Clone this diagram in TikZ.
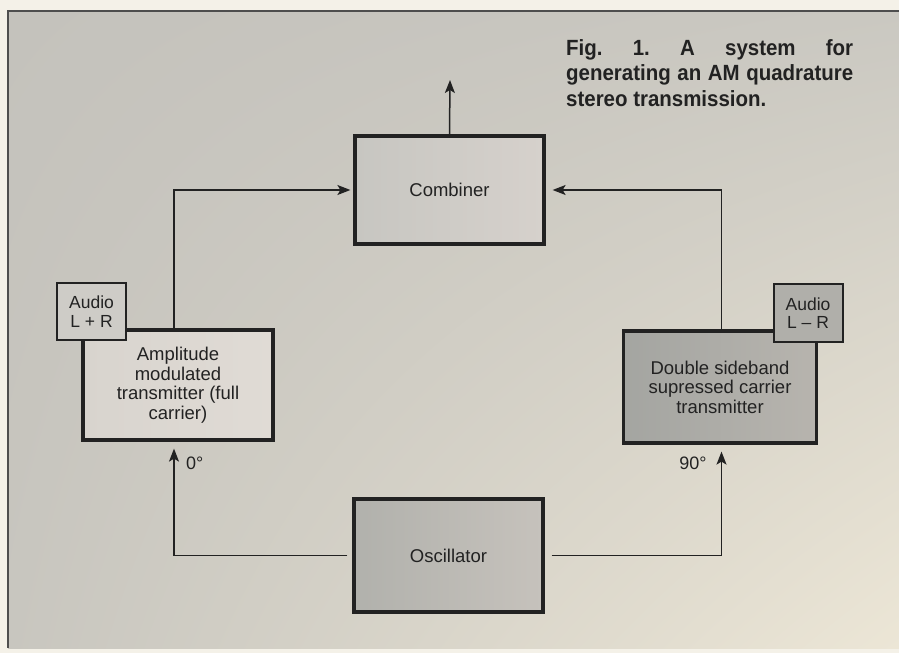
\documentclass[tikz,border=0pt]{standalone}
\usepackage{fontspec}
\setmainfont{Liberation Sans}
\newfontfamily\capfont[FakeStretch=0.93]{Liberation Sans}
\usepackage{xcolor}
\usetikzlibrary{arrows.meta,shadings}

\definecolor{paper}{HTML}{F4F1E8}
\definecolor{ink}{HTML}{222222}
\definecolor{panelUL}{RGB}{196,194,188}
\definecolor{panelUR}{RGB}{202,200,193}
\definecolor{panelLL}{RGB}{200,198,191}
\definecolor{panelLR}{RGB}{236,230,214}
\definecolor{combL}{RGB}{199,198,193}
\definecolor{combR}{RGB}{214,209,204}
\definecolor{amL}{RGB}{216,212,206}
\definecolor{amR}{RGB}{224,219,213}
\definecolor{dsbL}{RGB}{164,165,161}
\definecolor{dsbR}{RGB}{183,180,174}
\definecolor{oscL}{RGB}{177,177,172}
\definecolor{oscR}{RGB}{198,194,188}
\definecolor{lprfill}{RGB}{206,204,199}
\definecolor{lmrfill}{RGB}{176,175,170}

\begin{document}
\begin{tikzpicture}[x=1pt,y=-1pt,
		>={Stealth[length=13pt,width=10pt,inset=3pt]},
		box/.style={draw=ink,line width=3.2pt,text=ink,align=center,inner sep=0pt,
			font=\fontsize{18.5}{19.5}\selectfont},
		audio/.style={draw=ink,line width=2pt,text=ink,align=center,inner sep=0pt,
			minimum width=69pt,minimum height=57pt,font=\fontsize{17.5}{18.5}\selectfont},
		conn/.style={draw=ink,line width=1.5pt},
		lbl/.style={text=ink,inner sep=0pt,font=\fontsize{18}{19}\selectfont}]
		\useasboundingbox (0,0) rectangle (899,653);
		\fill[paper] (0,0) rectangle (899,653);
		\shade[upper left=panelUL,upper right=panelUR,lower left=panelLL,lower right=panelLR]
			(8,11) rectangle (899,648);
		\draw[ink!80,line width=1.2pt] (899,11) -- (8,11) -- (8,648);
		
		% blocks
		\node[box,minimum width=189pt,minimum height=108pt,left color=combL,right color=combR]
			(comb) at (449.5,190) {Combiner};
		\node[box,minimum width=190pt,minimum height=110pt,left color=amL,right color=amR]
			(am) at (178,385) {Amplitude\\modulated\\transmitter (full\\carrier)};
		\node[box,minimum width=193pt,minimum height=112pt,left color=dsbL,right color=dsbR]
			(dsb) at (720,387) {Double sideband\\supressed carrier\\transmitter};
		\node[box,minimum width=189pt,minimum height=113pt,left color=oscL,right color=oscR]
			(osc) at (448.5,555.5) {Oscillator};
		\node[audio,fill=lprfill] (lpr) at (91.5,311.5) {Audio\\L + R};
		\node[audio,fill=lmrfill,minimum height=58pt] (lmr) at (808,313) {Audio\\L -- R};
		
		% caption
		\node[anchor=north west,inner sep=0pt,text width=287pt,align=justify,text=ink,
			font=\capfont\bfseries\fontsize{22}{25.5}\selectfont\frenchspacing] (cap) at (566,39)
			{Fig. 1. A system for\linebreak generating an AM quadrature\linebreak stereo transmission.};
		
		% connectors
		\coordinate (out) at (450,80);
		\draw[conn,->] (comb.north) -- (out);
		\draw[conn,->,shorten >=3pt] ([xshift=-4pt]am.north) |- (comb.west);
		\draw[conn,->,shorten >=7pt] ([xshift=1.5pt]dsb.north) |- (comb.east);
		\draw[conn,->,shorten <=5pt,shorten >=7pt] (osc.west) -| ([xshift=-4pt]am.south);
		\draw[conn,->,shorten <=7pt,shorten >=7pt] (osc.east) -| ([xshift=1.5pt]dsb.south);
		
		\node[lbl,anchor=west] (deg0) at (186,463) {0°};
		\node[lbl] (deg90) at (693,463) {90°};
	\end{tikzpicture}
\end{document}
